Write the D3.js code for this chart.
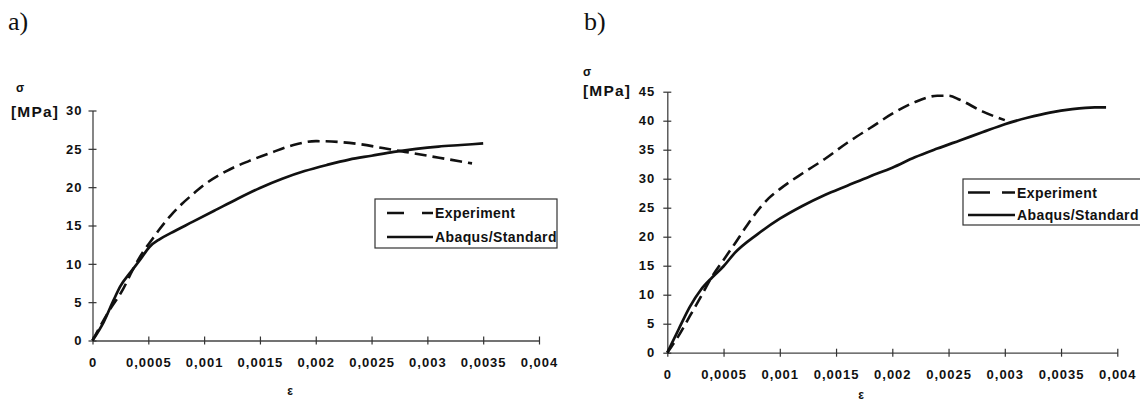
<!DOCTYPE html>
<html><head><meta charset="utf-8">
<script src="https://cdn.jsdelivr.net/npm/d3@7"></script>
<style>
html,body{margin:0;padding:0;background:#fff;}
svg{display:block;}
text{font-family:"Liberation Sans",Arial,sans-serif;fill:#111;}
</style></head>
<body>
<svg id="c" width="1140" height="412"></svg>
<script>
// ---------- data ----------
const xTickValues = [0,0.0005,0.001,0.0015,0.002,0.0025,0.003,0.0035,0.004];
const xTickLabels = ["0","0,0005","0,001","0,0015","0,002","0,0025","0,003","0,0035","0,004"];
const yTicksA = [0,5,10,15,20,25,30];
const yTicksB = [0,5,10,15,20,25,30,35,40,45];
const seriesNames = ["Experiment","Abaqus/Standard"];

// chart a)
const expA_x = [0,0.00015,0.00027,0.00036,0.00045,0.00052,0.0006,0.0007,0.0008,0.0009,0.001,0.0012,0.0014,0.0016,0.0018,0.002,0.0022,0.0024,0.0026,0.0028,0.003,0.0032,0.0034];
const expA_y = [0,3.9,6.6,9.2,11.5,12.9,14.5,16.3,17.8,19.1,20.3,22.1,23.4,24.5,25.5,26.0,25.9,25.6,25.1,24.6,24.1,23.6,23.1];
const absA_x = [0,0.0001,0.00019,0.00025,0.00034,0.00043,0.00051,0.0006,0.0007,0.0009,0.0011,0.0013,0.0015,0.0017,0.0019,0.0021,0.0023,0.0025,0.0027,0.0029,0.0031,0.0033,0.0035];
const absA_y = [0,2.4,5.3,7.1,8.9,10.6,12.2,13.2,14.0,15.5,17.0,18.5,19.9,21.1,22.1,22.9,23.6,24.1,24.6,25.0,25.3,25.5,25.7];

// chart b)
const expB_x = [0,0.0001,0.0002,0.0003,0.0004,0.0005,0.0006,0.0007,0.0008,0.0009,0.001,0.0012,0.0014,0.0016,0.0018,0.002,0.0022,0.0024,0.0025,0.0026,0.0028,0.003];
const expB_y = [0,2.9,6.3,9.7,13.2,16.0,18.8,21.7,24.4,26.6,28.2,30.9,33.4,36.2,38.7,41.2,43.2,44.3,44.3,43.6,41.6,40.1];
const absB_x = [0,0.0001,0.0002,0.0003,0.0004,0.0005,0.0006,0.0008,0.001,0.0012,0.0014,0.0016,0.0018,0.002,0.0022,0.0024,0.0026,0.0028,0.003,0.0032,0.0034,0.0036,0.0038,0.0039];
const absB_y = [0,4.0,7.9,10.9,13.0,14.9,17.2,20.4,23.1,25.3,27.2,28.8,30.4,31.9,33.7,35.2,36.6,38.0,39.4,40.5,41.4,42.0,42.3,42.3];

// ---------- drawing ----------
const svg = d3.select("#c");
const zip = (xs, ys) => xs.map((x,i)=>[x, ys[i]]);

function drawChart(cfg){
  const g = svg.append("g");
  const x = d3.scaleLinear().domain([0,0.004]).range(cfg.xr);
  const y = d3.scaleLinear().domain([0,cfg.ymax]).range(cfg.yr);

  // panel label
  g.append("text").attr("x",cfg.panel[0]).attr("y",cfg.panel[1])
    .style("font-family",'"Liberation Serif","Times New Roman",serif')
    .style("font-size","26px").style("fill","#111").text(cfg.panelText);

  // x axis
  const xa = g.append("g").attr("transform",`translate(0,${cfg.yr[0]})`)
    .call(d3.axisBottom(x).tickValues(xTickValues).tickFormat((d,i)=>xTickLabels[i]).tickSizeInner(4).tickSizeOuter(0).tickPadding(cfg.xPad));
  xa.selectAll(".tick line").attr("y1",-4).attr("stroke","#333").attr("stroke-width",1.2);
  xa.select(".domain").attr("stroke","#444").attr("stroke-width",1.3);
  xa.selectAll(".tick text").style("font-size","13px").style("font-weight","bold")
    .style("letter-spacing","1px").style("font-family",'"Liberation Sans",Arial,sans-serif').attr("fill","#111");

  // y axis
  const ya = g.append("g").attr("transform",`translate(${cfg.xr[0]},0)`)
    .call(d3.axisLeft(y).tickValues(cfg.yTicks).tickFormat(d3.format("d")).tickSizeInner(4).tickSizeOuter(0).tickPadding(cfg.yPad));
  ya.selectAll(".tick line").attr("x1",4).attr("stroke","#333").attr("stroke-width",1.2);
  ya.select(".domain").attr("stroke","#444").attr("stroke-width",1.3);
  ya.selectAll(".tick text").style("font-size","13px").style("font-weight","bold")
    .style("letter-spacing","1px").style("font-family",'"Liberation Sans",Arial,sans-serif').attr("fill","#111");

  // axis titles
  g.append("text").attr("x",cfg.sigma[0]).attr("y",cfg.sigma[1])
    .style("font-size","12px").style("font-weight","bold").text("σ");
  g.append("text").attr("x",cfg.mpa[0]).attr("y",cfg.mpa[1])
    .style("font-size","15.5px").style("font-weight","bold").style("letter-spacing","1.2px").text("[MPa]");
  g.append("text").attr("x",cfg.eps[0]).attr("y",cfg.eps[1]).attr("text-anchor","middle")
    .style("font-size","12px").style("font-weight","bold").text("ε");

  const line = d3.line().x(d=>x(d[0])).y(d=>y(d[1])).curve(d3.curveMonotoneX);

  g.append("path").datum(cfg.abs).attr("d",line)
    .attr("fill","none").attr("stroke","#111").attr("stroke-width",2.7).attr("stroke-linejoin","round");
  g.append("path").datum(cfg.exp).attr("d",line)
    .attr("fill","none").attr("stroke","#111").attr("stroke-width",2.6)
    .attr("stroke-dasharray","12,6");

  // legend
  const L = cfg.legend;
  g.append("rect").attr("x",L.box[0]).attr("y",L.box[1]).attr("width",L.box[2]).attr("height",L.box[3])
    .attr("fill","#fff").attr("stroke","#333").attr("stroke-width",1.2);
  const items = [{name:seriesNames[0], dash:L.dash},{name:seriesNames[1], dash:null}];
  items.forEach((it,i)=>{
    const yy = L.rows[i];
    g.append("line").attr("x1",L.sx[0]).attr("x2",L.sx[1]).attr("y1",yy).attr("y2",yy)
      .attr("stroke","#111").attr("stroke-width",2.7)
      .attr("stroke-dasharray",it.dash);
    g.append("text").attr("x",L.tx).attr("y",yy).attr("dy","0.36em")
      .style("font-size","14px").style("font-weight","bold").style("letter-spacing","0.4px").text(it.name);
  });
}

drawChart({
  panelText:"a)", panel:[8,30],
  xr:[92.5,539], yr:[340.5,110.5], ymax:30, yTicks:yTicksA,
  xPad:13, yPad:6,
  sigma:[16,92], mpa:[11,117], eps:[290,395],
  exp: zip(expA_x, expA_y), abs: zip(absA_x, absA_y),
  legend:{box:[375,199,182,49], rows:[213,237], sx:[387,433], tx:435, dash:"17,18"}
});

drawChart({
  panelText:"b)", panel:[584,30],
  xr:[667.3,1117.3], yr:[352.7,91.7], ymax:45, yTicks:yTicksB,
  xPad:13, yPad:8,
  sigma:[583,76], mpa:[583,96], eps:[861,399],
  exp: zip(expB_x, expB_y), abs: zip(absB_x, absB_y),
  legend:{box:[963,179,180,46], rows:[192.5,215], sx:[968,1015], tx:1017, dash:"22,12"}
});
</script>
</body></html>
